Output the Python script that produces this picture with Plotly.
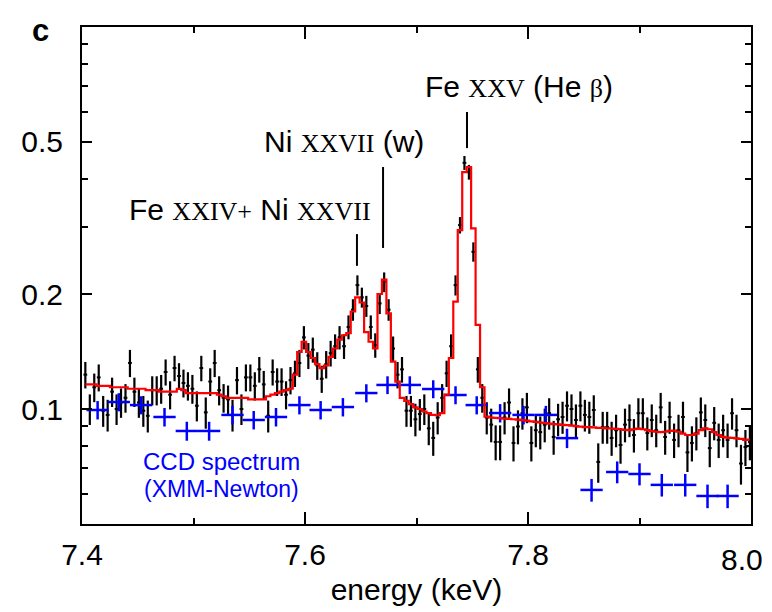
import math
import plotly.graph_objects as go

# ---------------- data ----------------
energy = [
    7.403, 7.407, 7.411, 7.415, 7.419, 7.423, 7.427, 7.431, 7.435, 7.439,
    7.443, 7.447, 7.451, 7.455, 7.459, 7.463, 7.467, 7.471, 7.475, 7.479,
    7.483, 7.487, 7.491, 7.495, 7.499, 7.503, 7.507, 7.511, 7.515, 7.519,
    7.523, 7.527, 7.531, 7.535, 7.539, 7.543, 7.547, 7.551, 7.555, 7.559,
    7.563, 7.567, 7.571, 7.575, 7.579, 7.583, 7.587, 7.591, 7.595, 7.599,
    7.603, 7.607, 7.611, 7.615, 7.619, 7.623, 7.627, 7.631, 7.635, 7.639,
    7.643, 7.647, 7.651, 7.655, 7.659, 7.663, 7.667, 7.671, 7.675, 7.679,
    7.683, 7.687, 7.691, 7.695, 7.699, 7.703, 7.707, 7.711, 7.715, 7.719,
    7.723, 7.727, 7.731, 7.735, 7.739, 7.743, 7.747, 7.751, 7.755, 7.759,
    7.763, 7.767, 7.771, 7.775, 7.779, 7.783, 7.787, 7.791, 7.795, 7.799,
    7.803, 7.807, 7.811, 7.815, 7.819, 7.823, 7.827, 7.831, 7.835, 7.839,
    7.843, 7.847, 7.851, 7.855, 7.859, 7.863, 7.867, 7.871, 7.875, 7.879,
    7.883, 7.887, 7.891, 7.895, 7.899, 7.903, 7.907, 7.911, 7.915, 7.919,
    7.923, 7.927, 7.931, 7.935, 7.939, 7.943, 7.947, 7.951, 7.955, 7.959,
    7.963, 7.967, 7.971, 7.975, 7.979, 7.983, 7.987, 7.991, 7.995, 7.999,
]

resolve_counts = [
    0.123, 0.100, 0.114, 0.121, 0.099, 0.0965, 0.111, 0.100, 0.104, 0.107,
    0.132, 0.111, 0.104, 0.099, 0.096, 0.112, 0.112, 0.113, 0.125, 0.109,
    0.128, 0.122, 0.117, 0.115, 0.113, 0.102, 0.128, 0.098, 0.118, 0.132,
    0.112, 0.107, 0.106, 0.0965, 0.119, 0.100, 0.121, 0.121, 0.115, 0.127,
    0.116, 0.096, 0.125, 0.118, 0.118, 0.109, 0.119, 0.124, 0.132, 0.154,
    0.138, 0.143, 0.130, 0.120, 0.131, 0.140, 0.146, 0.154, 0.146, 0.164,
    0.182, 0.211, 0.196, 0.186, 0.164, 0.147, 0.189, 0.215, 0.182, 0.144,
    0.123, 0.127, 0.099, 0.099, 0.094, 0.097, 0.100, 0.089, 0.084, 0.095,
    0.107, 0.124, 0.146, 0.211, 0.303, 0.441, 0.417, 0.258, 0.127, 0.107,
    0.095, 0.091, 0.082, 0.082, 0.095, 0.104, 0.0815, 0.090, 0.0975, 0.101,
    0.0815, 0.088, 0.087, 0.091, 0.0975, 0.0845, 0.094, 0.0953, 0.102, 0.100,
    0.0936, 0.102, 0.0965, 0.0953, 0.0994, 0.0727, 0.0897, 0.0897, 0.084, 0.088,
    0.0805, 0.091, 0.0936, 0.0855, 0.0975, 0.0975, 0.0865, 0.0936, 0.088, 0.101,
    0.0845, 0.0953, 0.083, 0.088, 0.0953, 0.077, 0.0815, 0.0865, 0.098, 0.0936,
    0.079, 0.092, 0.083, 0.088, 0.083, 0.0975, 0.088, 0.072, 0.0795, 0.082,
]

resolve_err = [
    0.0098, 0.0092, 0.0098, 0.0098, 0.0092, 0.0092, 0.0098, 0.0092, 0.0092, 0.0092,
    0.0108, 0.0098, 0.0092, 0.0092, 0.0092, 0.0098, 0.0098, 0.0098, 0.0098, 0.0092,
    0.0098, 0.0098, 0.0098, 0.0098, 0.0098, 0.0092, 0.0098, 0.0092, 0.0098, 0.0108,
    0.0098, 0.0092, 0.0092, 0.0092, 0.0098, 0.0092, 0.0098, 0.0098, 0.0098, 0.0098,
    0.0098, 0.0092, 0.0098, 0.0098, 0.0098, 0.0092, 0.0098, 0.0098, 0.0108, 0.0108,
    0.0108, 0.0108, 0.0108, 0.0098, 0.0108, 0.0108, 0.0108, 0.0108, 0.0108, 0.0118,
    0.0118, 0.0128, 0.0118, 0.0118, 0.0118, 0.0108, 0.0118, 0.0128, 0.0118, 0.0108,
    0.0098, 0.0098, 0.0092, 0.0092, 0.0092, 0.0092, 0.0092, 0.0086, 0.0086, 0.0092,
    0.0092, 0.0098, 0.0108, 0.0128, 0.0150, 0.0185, 0.0185, 0.0150, 0.0098, 0.0092,
    0.0092, 0.0092, 0.0086, 0.0086, 0.0092, 0.0092, 0.0086, 0.0092, 0.0092, 0.0092,
    0.0086, 0.0086, 0.0086, 0.0092, 0.0092, 0.0086, 0.0092, 0.0092, 0.0092, 0.0092,
    0.0092, 0.0092, 0.0092, 0.0092, 0.0092, 0.0086, 0.0086, 0.0086, 0.0086, 0.0086,
    0.0086, 0.0092, 0.0092, 0.0086, 0.0092, 0.0092, 0.0086, 0.0092, 0.0086, 0.0092,
    0.0086, 0.0092, 0.0086, 0.0086, 0.0092, 0.0086, 0.0086, 0.0086, 0.0092, 0.0092,
    0.0086, 0.0092, 0.0086, 0.0086, 0.0086, 0.0092, 0.0086, 0.0086, 0.0086, 0.0086,
]

model = [
    0.116, 0.116, 0.116, 0.115, 0.115, 0.115, 0.114, 0.114, 0.114, 0.114,
    0.113, 0.113, 0.113, 0.113, 0.112, 0.112, 0.112, 0.111, 0.111, 0.111,
    0.111, 0.113, 0.112, 0.110, 0.110, 0.110, 0.110, 0.110, 0.110, 0.110,
    0.109, 0.108, 0.107, 0.107, 0.107, 0.107, 0.107, 0.106, 0.106, 0.106,
    0.106, 0.108, 0.109, 0.110, 0.111, 0.112, 0.113, 0.123, 0.141, 0.150,
    0.141, 0.136, 0.131, 0.128, 0.130, 0.137, 0.144, 0.152, 0.156, 0.158,
    0.180, 0.196, 0.190, 0.159, 0.150, 0.144, 0.200, 0.218, 0.178, 0.133,
    0.118, 0.107, 0.105, 0.103, 0.101, 0.100, 0.0985, 0.0975, 0.0965, 0.0963,
    0.0975, 0.109, 0.136, 0.191, 0.294, 0.417, 0.430, 0.297, 0.166, 0.114,
    0.0955, 0.0950, 0.0948, 0.0946, 0.0944, 0.0942, 0.0940, 0.0938, 0.0935, 0.0932,
    0.0928, 0.0925, 0.0922, 0.0919, 0.0916, 0.0913, 0.0911, 0.0909, 0.0907, 0.0905,
    0.0902, 0.0899, 0.0897, 0.0896, 0.0895, 0.0893, 0.0892, 0.0890, 0.0889, 0.0887,
    0.0885, 0.0882, 0.0880, 0.0885, 0.0888, 0.0885, 0.0880, 0.0875, 0.0872, 0.0870,
    0.0872, 0.0876, 0.0878, 0.0872, 0.0862, 0.0855, 0.0855, 0.0862, 0.0880, 0.0890,
    0.0885, 0.0870, 0.0855, 0.0845, 0.0842, 0.0840, 0.0838, 0.0835, 0.0830, 0.0832,
]

ccd_energy = [
    7.414, 7.433, 7.453, 7.474, 7.494, 7.514, 7.535, 7.554, 7.574, 7.595,
    7.614, 7.634, 7.655, 7.674, 7.694, 7.715, 7.735, 7.754, 7.775, 7.796,
    7.816, 7.835, 7.857, 7.880, 7.900, 7.920, 7.941, 7.961, 7.979,
]
ccd_counts = [
    0.0994, 0.1043, 0.1024, 0.0953, 0.0876, 0.0876, 0.0965, 0.0936, 0.0953, 0.1024,
    0.0994, 0.1012, 0.1101, 0.1156, 0.1156, 0.1128, 0.1088, 0.1024, 0.0976, 0.0965,
    0.0965, 0.0839, 0.0614, 0.0684, 0.0676, 0.0633, 0.0633, 0.0592, 0.0592,
]
ccd_err = [
    0.0055, 0.0057, 0.0056, 0.0053, 0.0050, 0.0050, 0.0054, 0.0052, 0.0053, 0.0056,
    0.0055, 0.0056, 0.0060, 0.0062, 0.0062, 0.0061, 0.0059, 0.0056, 0.0054, 0.0054,
    0.0054, 0.0049, 0.0042, 0.0045, 0.0045, 0.0043, 0.0043, 0.0042, 0.0042,
]
ccd_halfwidth = [0.01] * len(ccd_energy)

# line markers: (energy, y_low, y_high)
line_marks = [
    (7.6466, 0.237, 0.287),
    (7.670, 0.264, 0.430),
    (7.7453, 0.482, 0.599),
]

x_tickvals = [7.4, 7.6, 7.8, 8.0]
x_ticktext = ["7.4", "7.6", "7.8", ""]
x_last_label = "8.0"
x_minor = [7.5, 7.7, 7.9]
y_tickvals = [0.1, 0.2, 0.5]
y_ticktext = ["0.1", "0.2", "0.5"]
y_minor = [0.06, 0.07, 0.08, 0.09, 0.3, 0.4, 0.6, 0.7, 0.8, 0.9]

SANS = "Liberation Sans, Arial, Helvetica, sans-serif"
SERIF = "Liberation Serif"
FS = 30
RS = 26

fig = go.Figure()

fig.add_trace(go.Scatter(
    x=energy, y=resolve_counts, mode="markers",
    marker=dict(size=2, color="black"),
    error_y=dict(type="data", array=resolve_err, color="black", thickness=2.2, width=0),
    error_x=dict(type="constant", value=0.0017, color="black", thickness=2, width=0),
    showlegend=False, hoverinfo="skip",
))

fig.add_trace(go.Scatter(
    x=ccd_energy, y=ccd_counts, mode="markers",
    marker=dict(size=1, color="#0000ff"),
    error_y=dict(type="data", array=ccd_err, color="#0000ff", thickness=2.5, width=0),
    error_x=dict(type="data", array=ccd_halfwidth, color="#0000ff", thickness=2.5, width=0),
    showlegend=False, hoverinfo="skip",
))

fig.add_trace(go.Scatter(
    x=energy, y=model, mode="lines", line=dict(color="#ff0000", width=2.2, shape="hvh"),
    showlegend=False, hoverinfo="skip",
))

for e, lo, hi in line_marks:
    fig.add_trace(go.Scatter(
        x=[e, e], y=[lo, hi], mode="lines", line=dict(color="black", width=2),
        showlegend=False, hoverinfo="skip",
    ))


def rn(s):
    return f'<span style="font-family:{SERIF};font-size:{RS}px">{s}</span>'


annos = [
    ("Fe " + rn("XXIV+") + " Ni " + rn("XXVII"), 7.5507, 0.332),
    ("Ni " + rn("XXVII") + " (w)", 7.635, 0.5),
    ("Fe " + rn("XXV") + " (He " + rn("β") + ")", 7.7919, 0.699),
]
for txt, xv, yv in annos:
    fig.add_annotation(x=xv, y=math.log10(yv), xref="x", yref="y", text=txt,
                       showarrow=False, xanchor="center", yanchor="middle",
                       font=dict(family=SANS, size=FS, color="black"))

fig.add_annotation(x=7.5247, y=math.log10(0.0727), xref="x", yref="y", text="CCD spectrum",
                   showarrow=False, xanchor="center", yanchor="middle",
                   font=dict(family=SANS, size=24, color="#0000ff"))
fig.add_annotation(x=7.5247, y=math.log10(0.0617), xref="x", yref="y", text="(XMM-Newton)",
                   showarrow=False, xanchor="center", yanchor="middle",
                   font=dict(family=SANS, size=23, color="#0000ff"))

fig.add_annotation(x=-0.0613, y=0.993, xref="paper", yref="paper", text="<b>c</b>",
                   showarrow=False, xanchor="center", yanchor="middle",
                   font=dict(family=SANS, size=31, color="black"))

# last x tick label, nudged inward so it stays inside the figure
fig.add_annotation(x=8.0, y=0, xref="x", yref="paper", text=x_last_label,
                   showarrow=False, xanchor="right", yanchor="top", xshift=14, yshift=-17,
                   font=dict(family=SANS, size=FS, color="black"))

fig.update_layout(
    width=764, height=604,
    margin=dict(l=74, r=21, t=19, b=88, autoexpand=False),
    paper_bgcolor="white", plot_bgcolor="white",
    font=dict(family=SANS, size=FS, color="black"),
)
fig.update_xaxes(
    range=[7.4, 8.0], tickmode="array", tickvals=x_tickvals, ticktext=x_ticktext,
    ticks="inside", ticklen=12, tickwidth=2, tickcolor="black",
    showline=True, linewidth=2, linecolor="black", mirror="ticks",
    showgrid=False, zeroline=False, ticklabelstandoff=3, automargin=False,
    tickfont=dict(family=SANS, size=FS, color="black"),
    minor=dict(tickmode="array", tickvals=x_minor, ticks="inside", ticklen=6,
               tickwidth=2, tickcolor="black", showgrid=False),
    title=dict(text="energy (keV)", font=dict(family=SANS, size=FS, color="black"), standoff=9),
)
fig.update_yaxes(
    type="log", range=[math.log10(0.05), 0.0], tickmode="array",
    tickvals=y_tickvals, ticktext=y_ticktext,
    ticks="inside", ticklen=10, tickwidth=2, tickcolor="black",
    showline=True, linewidth=2, linecolor="black", mirror="ticks",
    showgrid=False, zeroline=False, ticklabelstandoff=11, automargin=False,
    tickfont=dict(family=SANS, size=FS, color="black"),
    minor=dict(tickmode="array", tickvals=y_minor, ticks="inside", ticklen=6,
               tickwidth=2, tickcolor="black", showgrid=False),
)

fig.write_html("out.html")
